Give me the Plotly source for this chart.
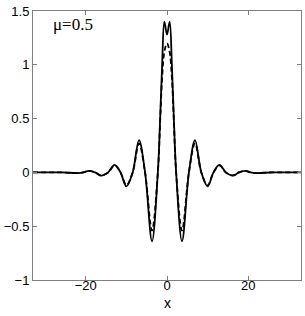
import plotly.graph_objects as go

# Solid curve
x_solid = [-33, -26, -22.0, -20.6, -19.2, -17.7, -16.2, -14.5, -12.9, -11.45, -10.0, -8.45, -6.9, -5.4,
           -3.7, -2.25, -1.7, -1.2, -0.65, 0.0, 0.65, 1.2, 1.7, 2.25, 3.7, 5.4, 6.9, 8.45, 10.0,
           11.45, 12.9, 14.5, 16.2, 17.7, 19.2, 20.6, 22.0, 26, 33]
y_solid = [0.0, 0.0, -0.006, 0.0, 0.015, 0.0, -0.03, 0.0, 0.07, 0.0, -0.13, 0.0, 0.30, 0.0,
           -0.64, 0.0, 0.49, 1.0, 1.40, 1.28, 1.40, 1.0, 0.49, 0.0, -0.64, 0.0, 0.30, 0.0, -0.13,
           0.0, 0.07, 0.0, -0.03, 0.0, 0.015, 0.0, -0.006, 0.0, 0.0]

# Dashed curve
x_dash = [-33, -26, -22.0, -20.6, -19.2, -17.7, -16.2, -14.5, -12.9, -11.45, -10.0, -8.45, -6.9, -5.4,
          -3.7, -2.25, -1.7, -1.2, -0.65, 0.0, 0.65, 1.2, 1.7, 2.25, 3.7, 5.4, 6.9, 8.45, 10.0,
          11.45, 12.9, 14.5, 16.2, 17.7, 19.2, 20.6, 22.0, 26, 33]
y_dash = [0.0, 0.0, -0.006, 0.0, 0.014, 0.0, -0.028, 0.0, 0.065, 0.0, -0.12, 0.0, 0.27, 0.0,
          -0.54, 0.0, 0.46, 0.88, 1.12, 1.20, 1.12, 0.88, 0.46, 0.0, -0.54, 0.0, 0.27, 0.0, -0.12,
          0.0, 0.065, 0.0, -0.028, 0.0, 0.014, 0.0, -0.006, 0.0, 0.0]

x_ticks = [-20, 0, 20]
y_ticks = [-1, -0.5, 0, 0.5, 1, 1.5]
y_ticktext = ["\u22121", "\u22120.5", "0", "0.5", "1", "1.5"]
x_ticktext = ["\u221220", "0", "20"]

fig = go.Figure()
fig.add_trace(go.Scatter(x=x_solid, y=y_solid, mode="lines",
                         line=dict(color="black", width=1.8, shape="spline", smoothing=1.0)))
fig.add_trace(go.Scatter(x=x_dash, y=y_dash, mode="lines",
                         line=dict(color="black", width=1.8, dash="5px,3px", shape="spline", smoothing=1.0)))

axis_common = dict(showline=True, linecolor="#7f7f7f", linewidth=1, mirror="ticks",
                   ticks="inside", ticklen=4, tickcolor="#7f7f7f", showgrid=False,
                   zeroline=False, automargin=False,
                   tickfont=dict(family="Liberation Sans, Arial", size=13, color="black"))

fig.update_xaxes(range=[-33, 33], tickvals=x_ticks, ticktext=x_ticktext,
                 ticklabelstandoff=-7, **axis_common)
fig.update_yaxes(range=[-1, 1.5], tickvals=y_ticks, ticktext=y_ticktext, **axis_common)

fig.add_annotation(text="x", xref="paper", yref="paper", x=0.5, y=-0.086,
                   xanchor="center", yanchor="middle", showarrow=False,
                   font=dict(family="Liberation Sans, Arial", size=14, color="black"))

fig.add_annotation(text="\u03bc=0.5", xref="paper", yref="paper", x=0.068, y=0.948,
                   xanchor="left", yanchor="middle", showarrow=False,
                   font=dict(family="Liberation Serif", size=17, color="black"))

fig.update_layout(width=305, height=316, margin=dict(l=33, r=4, t=11, b=36),
                  plot_bgcolor="white", paper_bgcolor="white", showlegend=False)

fig.write_html("out.html", config={"displayModeBar": False},
               post_script="document.body.style.margin='0';")
